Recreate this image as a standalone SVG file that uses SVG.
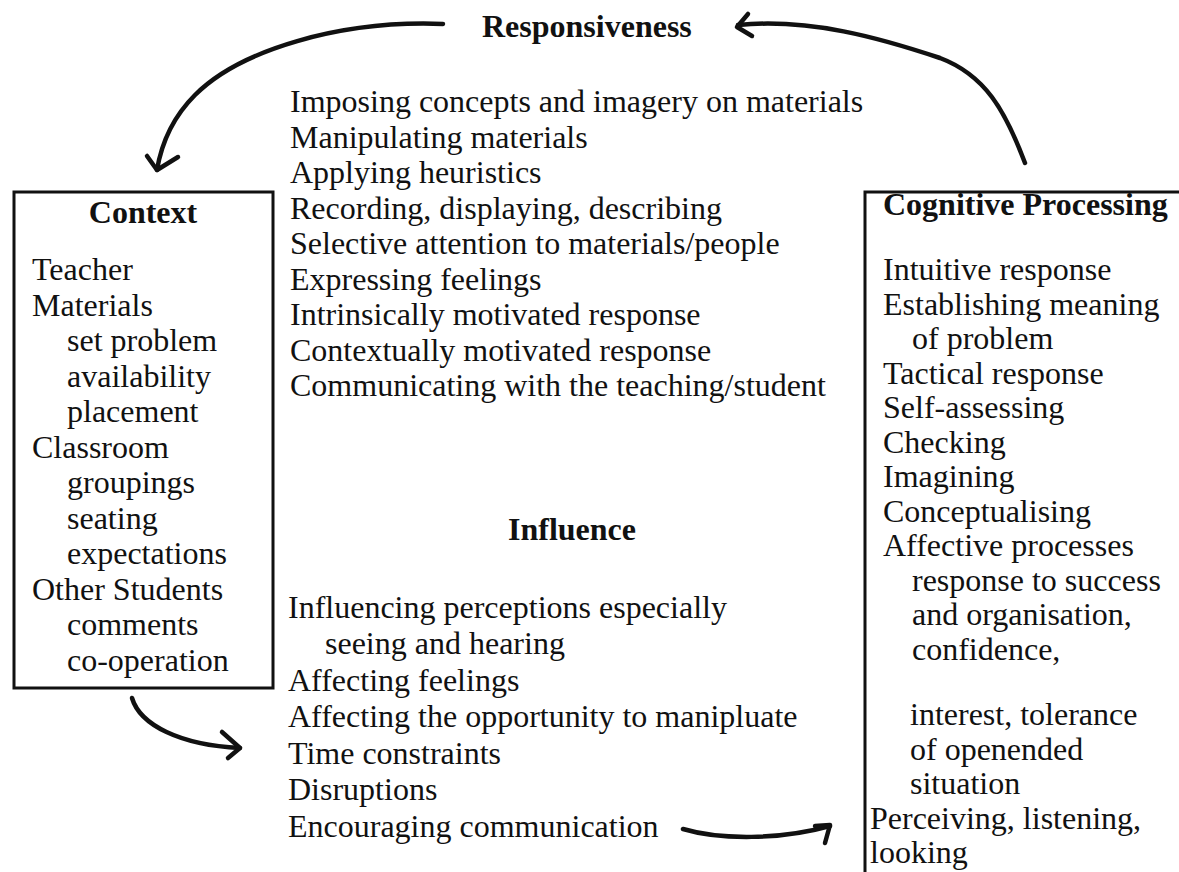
<svg xmlns="http://www.w3.org/2000/svg" width="1179" height="872" viewBox="0 0 1179 872">
<style>
text{font-family:"Liberation Serif","Times New Roman",serif;font-size:32px;fill:#111}
.b{font-weight:bold}
.box{fill:none;stroke:#111;stroke-width:3}
.c{fill:none;stroke:#111;stroke-width:4.5;stroke-linecap:round;stroke-linejoin:round}
</style>
<rect width="1179" height="872" fill="#fff"/>
<g id="responsiveness">
<text class="b" x="482" y="37">Responsiveness</text>
<text x="290" y="112">Imposing concepts and imagery on materials</text>
<text x="290" y="147.5">Manipulating materials</text>
<text x="290" y="183">Applying heuristics</text>
<text x="290" y="218.5">Recording, displaying, describing</text>
<text x="290" y="254">Selective attention to materials/people</text>
<text x="290" y="289.5">Expressing feelings</text>
<text x="290" y="325">Intrinsically motivated response</text>
<text x="290" y="360.5">Contextually motivated response</text>
<text x="290" y="396">Communicating with the teaching/student</text>
</g>
<g id="context">
<rect class="box" x="14" y="192" width="259" height="496"/>
<text class="b" x="143" y="223" text-anchor="middle">Context</text>
<text x="32" y="280">Teacher</text>
<text x="32" y="315.5">Materials</text>
<text x="67" y="351">set problem</text>
<text x="67" y="386.5">availability</text>
<text x="67" y="422">placement</text>
<text x="32" y="457.5">Classroom</text>
<text x="67" y="493">groupings</text>
<text x="67" y="528.5">seating</text>
<text x="67" y="564">expectations</text>
<text x="32" y="599.5">Other Students</text>
<text x="67" y="635">comments</text>
<text x="67" y="670.5">co-operation</text>
</g>
<g id="influence">
<text class="b" x="572" y="540" text-anchor="middle">Influence</text>
<text x="288" y="618">Influencing perceptions especially</text>
<text x="325" y="654">seeing and hearing</text>
<text x="288" y="691">Affecting feelings</text>
<text x="288" y="727">Affecting the opportunity to manipluate</text>
<text x="288" y="764">Time constraints</text>
<text x="288" y="800">Disruptions</text>
<text x="288" y="837">Encouraging communication</text>
</g>
<g id="cognitive">
<path class="box" d="M865,872 V192 H1179"/>
<text class="b" x="883" y="215">Cognitive Processing</text>
<text x="883" y="280">Intuitive response</text>
<text x="883" y="314.5">Establishing meaning</text>
<text x="912" y="349">of problem</text>
<text x="883" y="383.5">Tactical response</text>
<text x="883" y="418">Self-assessing</text>
<text x="883" y="452.5">Checking</text>
<text x="883" y="487">Imagining</text>
<text x="883" y="521.5">Conceptualising</text>
<text x="883" y="556">Affective processes</text>
<text x="912" y="590.5">response to success</text>
<text x="912" y="625">and organisation,</text>
<text x="912" y="659.5">confidence,</text>
<text x="910" y="725">interest, tolerance</text>
<text x="910" y="759.5">of openended</text>
<text x="910" y="794">situation</text>
<text x="870" y="828.5">Perceiving, listening,</text>
<text x="870" y="863">looking</text>
</g>
<g id="connectors">
<path class="c" d="M443,24 C340,20 240,50 195,95 C175,115 162,140 157,170"/>
<path class="c" d="M147,156 L157,170 L178,157"/>
<path class="c" d="M1025,163 C1005,110 985,75 940,58 C880,38 810,18 738,25"/>
<path class="c" d="M748,14 L737,27 L752,36"/>
<path class="c" d="M132,698 C140,725 180,745 240,748"/>
<path class="c" d="M222,732 L240,748 L228,758"/>
<path class="c" d="M683,829 C720,840 780,840 830,826"/>
<path class="c" d="M815,826 L830,825 L825,843"/>
</g>
</svg>
